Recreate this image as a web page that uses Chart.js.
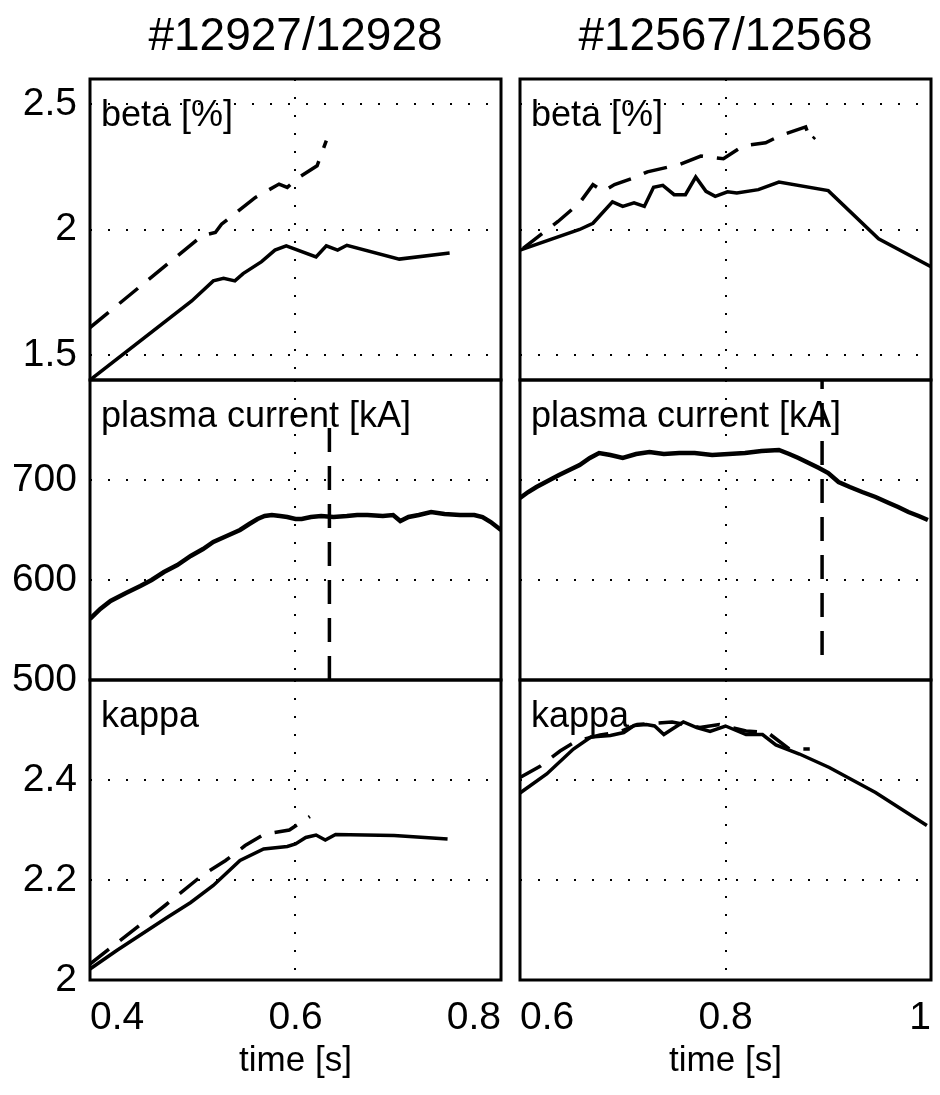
<!DOCTYPE html>
<html>
<head>
<meta charset="utf-8">
<script src="https://cdn.jsdelivr.net/npm/chart.js@4.4.1/dist/chart.umd.min.js"></script>
<style>
  body { margin: 0; background: #fff; }
  #wrap { position: relative; width: 940px; height: 1095px; background: #fff; overflow: hidden; }
  .cell { position: absolute; }
</style>
</head>
<body>
<div id="wrap">
  <div class="cell" style="left:0;top:0"><canvas id="betaL" width="515" height="395"></canvas></div>
  <div class="cell" style="left:505px;top:0"><canvas id="betaR" width="435" height="395"></canvas></div>
  <div class="cell" style="left:0;top:360px"><canvas id="ipL" width="515" height="350"></canvas></div>
  <div class="cell" style="left:505px;top:360px"><canvas id="ipR" width="435" height="350"></canvas></div>
  <div class="cell" style="left:0;top:660px"><canvas id="kapL" width="515" height="435"></canvas></div>
  <div class="cell" style="left:505px;top:660px"><canvas id="kapR" width="435" height="435"></canvas></div>
</div>
<script>
// shot titles and axis ticks
const shotL = '#12927/12928';
const shotR = '#12567/12568';
const timeTicksL = [0.4, 0.6, 0.8];
const timeTicksR = [0.6, 0.8, 1];
const betaTicks = [1.5, 2, 2.5];
const ipTicks = [500, 600, 700];
const kappaTicks = [2, 2.2, 2.4];

// beta [%], left shot
const tBetaL = [0.400, 0.499, 0.520, 0.530, 0.541, 0.549, 0.567, 0.580, 0.591, 0.620, 0.630, 0.641, 0.650, 0.701, 0.750];
const betaL = [1.400, 1.715, 1.795, 1.805, 1.795, 1.824, 1.872, 1.918, 1.935, 1.891, 1.935, 1.918, 1.937, 1.882, 1.906];
const tBetaDashL = [0.400, 0.509, 0.522, 0.528, 0.561, 0.584, 0.592, 0.603, 0.621, 0.630];
const betaDashL = [1.609, 1.975, 1.988, 2.021, 2.128, 2.181, 2.168, 2.207, 2.254, 2.354];

// beta [%], right shot
const tBetaR = [0.600, 0.658, 0.671, 0.690, 0.700, 0.711, 0.721, 0.730, 0.739, 0.750, 0.761, 0.771, 0.781, 0.790, 0.802, 0.811, 0.832, 0.852, 0.900, 0.949, 1.000];
const betaR = [1.918, 2.000, 2.025, 2.110, 2.092, 2.106, 2.092, 2.168, 2.176, 2.139, 2.139, 2.209, 2.152, 2.132, 2.150, 2.146, 2.159, 2.189, 2.155, 1.963, 1.852];
const tBetaDashR = [0.603, 0.637, 0.658, 0.671, 0.681, 0.692, 0.711, 0.724, 0.755, 0.776, 0.798, 0.817, 0.839, 0.855, 0.878, 0.883, 0.887];
const betaDashR = [1.925, 2.032, 2.106, 2.179, 2.152, 2.179, 2.206, 2.230, 2.259, 2.293, 2.282, 2.333, 2.346, 2.377, 2.409, 2.353, 2.369];

// plasma current [kA]
const tIpL = [0.400, 0.410, 0.420, 0.435, 0.449, 0.460, 0.472, 0.485, 0.498, 0.510, 0.520, 0.533, 0.546, 0.555, 0.563, 0.570, 0.577, 0.585, 0.592, 0.600, 0.606, 0.615, 0.625, 0.637, 0.650, 0.660, 0.670, 0.685, 0.695, 0.702, 0.710, 0.720, 0.732, 0.745, 0.760, 0.774, 0.782, 0.790, 0.800];
const ipL = [561, 571, 579, 587, 594, 600, 608, 615, 624, 631, 638, 644, 650, 656, 661, 664, 665, 664, 663, 661, 661, 663, 664, 663, 664, 665, 665, 664, 665, 659, 663, 665, 668, 666, 665, 665, 663, 658, 650];
const tIpDashL = [0.633, 0.633];
const ipDashL = [500, 754];
const tIpR = [0.600, 0.608, 0.616, 0.627, 0.638, 0.648, 0.658, 0.668, 0.677, 0.688, 0.700, 0.713, 0.726, 0.740, 0.755, 0.770, 0.787, 0.803, 0.819, 0.835, 0.852, 0.862, 0.871, 0.881, 0.891, 0.900, 0.910, 0.921, 0.933, 0.946, 0.959, 0.968, 0.978, 0.988, 0.997];
const ipR = [682, 688, 693, 699, 705, 710, 715, 722, 727, 725, 722, 726, 728, 726, 727, 727, 725, 726, 727, 729, 730, 726, 722, 717, 712, 707, 698, 693, 688, 683, 677, 673, 668, 664, 660];
const tIpDashR = [0.894, 0.894];
const ipDashR = [525, 800];

// kappa
const tKapL = [0.400, 0.426, 0.475, 0.498, 0.520, 0.546, 0.569, 0.592, 0.600, 0.610, 0.620, 0.629, 0.639, 0.696, 0.748];
const kapL = [2.022, 2.059, 2.125, 2.155, 2.189, 2.239, 2.262, 2.267, 2.272, 2.285, 2.290, 2.280, 2.291, 2.289, 2.282];
const tKapDashL = [0.400, 0.473, 0.509, 0.532, 0.551, 0.569, 0.594, 0.614];
const kapDashL = [2.032, 2.149, 2.209, 2.239, 2.269, 2.291, 2.300, 2.327];
const tKapR = [0.600, 0.626, 0.652, 0.669, 0.688, 0.701, 0.711, 0.723, 0.731, 0.740, 0.749, 0.759, 0.772, 0.785, 0.800, 0.820, 0.836, 0.849, 0.872, 0.901, 0.946, 0.996];
const kapR = [2.374, 2.412, 2.462, 2.486, 2.489, 2.495, 2.509, 2.511, 2.508, 2.491, 2.503, 2.516, 2.505, 2.497, 2.508, 2.491, 2.491, 2.470, 2.452, 2.425, 2.375, 2.309];
const tKapDashR = [0.600, 0.620, 0.639, 0.655, 0.678, 0.698, 0.714, 0.748, 0.775, 0.794, 0.820, 0.841, 0.862, 0.882];
const kapDashR = [2.405, 2.428, 2.458, 2.478, 2.490, 2.497, 2.511, 2.516, 2.505, 2.511, 2.498, 2.495, 2.462, 2.462];

Chart.defaults.font.family = '"Liberation Sans", Arial, Helvetica, sans-serif';
Chart.defaults.color = '#000';

// box round the plot area and the panel name in its corner
const framePlugin = {
    id: 'frame',
    afterDatasetsDraw(chart, args, opts) {
        const a = chart.chartArea;
        const ctx = chart.ctx;
        ctx.save();
        ctx.strokeStyle = '#000';
        ctx.lineWidth = 3;
        ctx.strokeRect(a.left, a.top, a.right - a.left, a.bottom - a.top);
        ctx.fillStyle = '#000';
        ctx.font = '36px "Liberation Sans", Arial, sans-serif';
        ctx.textAlign = 'left';
        ctx.textBaseline = 'alphabetic';
        ctx.fillText(opts.text, a.left + 11, a.top + 47);
        ctx.restore();
    }
};

// no extra room for labels that stick out at the ends of an axis
function noEdgePadding(s) {
    s.paddingTop = 0;
    s.paddingBottom = 0;
    s.paddingLeft = 0;
    s.paddingRight = 0;
}

function series(t, v, dashed, width) {
    return {
        data: t.map((x, i) => ({ x: x, y: v[i] })),
        borderColor: '#000',
        borderWidth: width,
        borderDash: dashed ? [24, 14] : [],
        pointRadius: 0,
        tension: 0,
        fill: false
    };
}

function makePanel(id, p) {
    const left = p.col === 'L';
    const xTicks = left ? timeTicksL : timeTicksR;
    const bottomRow = p.row === 2;
    let pad = { left: 0, right: left ? 14 : 9, top: 0, bottom: 0 };
    if (p.row === 0) pad.bottom = 15;
    if (p.row === 1) { pad.top = 20; pad.bottom = 30; }
    if (p.row === 2) pad.top = 20;

    return new Chart(document.getElementById(id), {
        type: 'line',
        data: { datasets: p.datasets },
        plugins: [framePlugin],
        options: {
            responsive: false,
            devicePixelRatio: 1,
            animation: false,
            layout: { padding: pad },
            plugins: {
                legend: { display: false },
                tooltip: { enabled: false },
                frame: { text: p.label },
                title: {
                    display: p.row === 0,
                    text: left ? shotL : shotR,
                    fullSize: false,
                    font: { size: 46, weight: 'normal' },
                    color: '#000',
                    padding: { top: 10, bottom: 13.8 }
                }
            },
            scales: {
                x: {
                    type: 'linear',
                    min: xTicks[0],
                    max: xTicks[xTicks.length - 1],
                    afterBuildTicks: s => { s.ticks = xTicks.map(v => ({ value: v })); },
                    afterFit: s => { s.height = bottomRow ? 115 : 0; noEdgePadding(s); },
                    grid: { color: '#000', lineWidth: 2, drawTicks: false },
                    border: { display: false, dash: [2, 16] },
                    ticks: {
                        display: bottomRow,
                        align: 'inner',
                        maxRotation: 0,
                        padding: 15,
                        font: { size: 39 },
                        callback: v => String(v)
                    },
                    title: {
                        display: bottomRow,
                        text: 'time [s]',
                        font: { size: 35 },
                        padding: { top: 0, bottom: 13 }
                    }
                },
                y: {
                    type: 'linear',
                    min: p.min,
                    max: p.max,
                    afterBuildTicks: s => { s.ticks = p.ticks.map(v => ({ value: v })); },
                    afterFit: s => { s.width = left ? 90 : 15; noEdgePadding(s); },
                    grid: { color: '#000', lineWidth: 2, drawTicks: false },
                    border: { display: false, dash: [2, 16] },
                    ticks: {
                        display: left,
                        padding: 13,
                        font: { size: 39 },
                        callback: v => String(v)
                    }
                }
            }
        }
    });
}

makePanel('betaL', { col: 'L', row: 0, label: 'beta [%]', min: 1.4, max: 2.6, ticks: betaTicks,
    datasets: [series(tBetaL, betaL, false, 3.5), series(tBetaDashL, betaDashL, true, 3.5)] });
makePanel('betaR', { col: 'R', row: 0, label: 'beta [%]', min: 1.4, max: 2.6, ticks: betaTicks,
    datasets: [series(tBetaR, betaR, false, 3.5), series(tBetaDashR, betaDashR, true, 3.5)] });
makePanel('ipL', { col: 'L', row: 1, label: 'plasma current [kA]', min: 500, max: 800, ticks: ipTicks,
    datasets: [series(tIpL, ipL, false, 4.5), series(tIpDashL, ipDashL, true, 3.5)] });
makePanel('ipR', { col: 'R', row: 1, label: 'plasma current [kA]', min: 500, max: 800, ticks: ipTicks,
    datasets: [series(tIpR, ipR, false, 4.5), series(tIpDashR, ipDashR, true, 3.5)] });
makePanel('kapL', { col: 'L', row: 2, label: 'kappa', min: 2, max: 2.6, ticks: kappaTicks,
    datasets: [series(tKapL, kapL, false, 3.5), series(tKapDashL, kapDashL, true, 3.5)] });
makePanel('kapR', { col: 'R', row: 2, label: 'kappa', min: 2, max: 2.6, ticks: kappaTicks,
    datasets: [series(tKapR, kapR, false, 3.5), series(tKapDashR, kapDashR, true, 3.5)] });
</script>
</body>
</html>
